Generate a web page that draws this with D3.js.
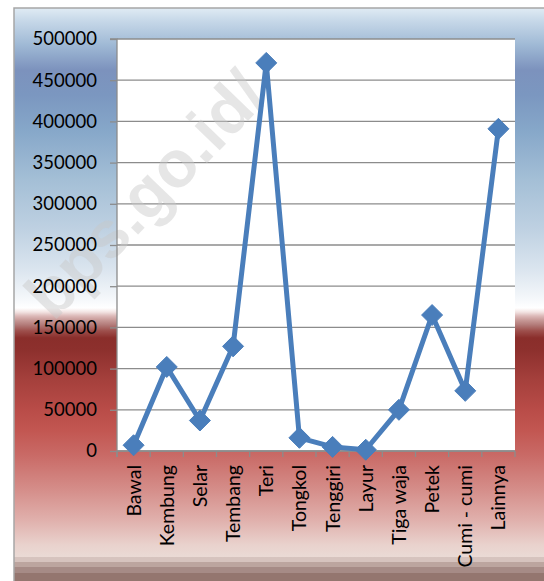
<!DOCTYPE html>
<html>
<head>
<meta charset="utf-8">
<script src="https://cdn.jsdelivr.net/npm/d3@7"></script>
<style>
  html, body { margin: 0; padding: 0; background: #ffffff; }
  svg { display: block; }
  text { font-family: Lato, "Open Sans", sans-serif; fill: #000; }
</style>
</head>
<body>
<svg id="chart" width="544" height="581"></svg>
<script>
const categories = ["Bawal", "Kembung", "Selar", "Tembang", "Teri", "Tongkol", "Tenggiri", "Layur", "Tiga waja", "Petek", "Cumi - cumi", "Lainnya"];
const values = [7000, 102000, 37000, 127000, 471000, 16000, 5000, 1500, 50000, 165000, 73000, 391000];
const yTicks = [0, 50000, 100000, 150000, 200000, 250000, 300000, 350000, 400000, 450000, 500000];
const watermark = "bps.go.id/";

const svg = d3.select("#chart");
const W = 544, H = 581;
const plot = { left: 117, right: 515, top: 39, bottom: 451 };

// background gradient (absolute y, colour)
const bgTop = 8, bgBottom = 581;
const stops = [
  [8, "#e0ebf4"], [20, "#c8d9e9"], [45, "#9fb9d5"], [70, "#7c92bd"], [95, "#7b97c0"],
  [130, "#86a7c9"], [180, "#a4bfd6"], [230, "#bfd1e2"], [270, "#dbe5ef"], [298, "#f4f7fa"],
  [308, "#ffffff"], [312, "#f3e4e3"], [316, "#dcb9b8"], [320, "#c89a98"], [325, "#b27a78"],
  [331, "#9d4e4b"], [338, "#8a2e2b"], [350, "#8d302d"], [380, "#a5403c"], [410, "#b94c48"],
  [430, "#c25651"], [455, "#c96a66"], [490, "#d58e8a"], [520, "#e0b0ac"], [545, "#e9d2cd"],
  [557, "#eadad5"], [557.5, "#d6c3be"], [562, "#d6c3be"], [562.5, "#bca59f"], [567, "#bca59f"],
  [567.5, "#a68b86"], [573, "#a68b86"], [573.5, "#94766f"], [581, "#94766f"]
];
const defs = svg.append("defs");
const grad = defs.append("linearGradient")
  .attr("id", "bg").attr("gradientUnits", "userSpaceOnUse")
  .attr("x1", 0).attr("y1", bgTop).attr("x2", 0).attr("y2", bgBottom);
stops.forEach(([y, c]) => grad.append("stop")
  .attr("offset", ((y - bgTop) / (bgBottom - bgTop)).toFixed(4))
  .attr("stop-color", c));

svg.append("rect")
  .attr("x", 14).attr("y", bgTop).attr("width", W - 14 + 2).attr("height", bgBottom - bgTop + 2)
  .attr("fill", "url(#bg)").attr("stroke", "#a6a6a6").attr("stroke-width", 1.5);

// scales
const x = d3.scaleBand().domain(categories).range([plot.left, plot.right]).padding(0);
const y = d3.scaleLinear().domain([0, 500000]).range([plot.bottom, plot.top]);

// plot area
svg.append("rect")
  .attr("x", plot.left).attr("y", plot.top)
  .attr("width", plot.right - plot.left).attr("height", plot.bottom - plot.top)
  .attr("fill", "#ffffff");

// gridlines
svg.append("g").selectAll("line").data(yTicks).join("line")
  .attr("x1", plot.left).attr("x2", plot.right)
  .attr("y1", d => y(d)).attr("y2", d => y(d))
  .attr("stroke", "#8c8c8c").attr("stroke-width", 1.3);

// watermark
svg.append("text")
  .attr("transform", "translate(270,98) rotate(-46)")
  .attr("text-anchor", "end")
  .style("font-family", "'Liberation Sans', Arial, sans-serif")
  .style("font-weight", "bold")
  .style("font-size", "66px")
  .style("fill", "#c8c8c8")
  .style("fill-opacity", 0.45)
  .text(watermark);

// y axis
const yAxis = d3.axisLeft(y).tickValues(yTicks).tickSize(7).tickPadding(13).tickFormat(d3.format("d"));
const gy = svg.append("g").attr("transform", `translate(${plot.left},0)`).call(yAxis);
gy.select(".domain").attr("stroke", "#8c8c8c").attr("stroke-width", 1.3)
  .attr("d", `M-7,${plot.top}H0V${plot.bottom + 6}`);
gy.selectAll(".tick line").attr("stroke", "#8c8c8c").attr("stroke-width", 1.3);
gy.selectAll(".tick text").style("font-family", "Lato, 'Open Sans', sans-serif")
  .style("font-size", "18.5px").attr("fill", "#000");

// x axis (ticks on category boundaries)
const gx = svg.append("g").attr("transform", `translate(0,${plot.bottom})`);
gx.append("line").attr("x1", plot.left).attr("x2", plot.right).attr("y1", 0).attr("y2", 0)
  .attr("stroke", "#8c8c8c").attr("stroke-width", 1.3);
const bounds = categories.map(c => x(c)).concat([x.range()[1]]);
gx.selectAll("line.tk").data(bounds).join("line").attr("class", "tk")
  .attr("x1", d => d).attr("x2", d => d).attr("y1", 0).attr("y2", 6)
  .attr("stroke", "#8c8c8c").attr("stroke-width", 1.3);
gx.selectAll("text").data(categories).join("text")
  .attr("transform", d => `translate(${x(d) + x.bandwidth() / 2 + 7},${14}) rotate(-90)`)
  .attr("text-anchor", "end")
  .style("font-size", "19.5px")
  .text(d => d);

// line
const pts = categories.map((c, i) => [x(c) + x.bandwidth() / 2, y(values[i])]);
svg.append("path")
  .attr("d", d3.line()(pts))
  .attr("fill", "none").attr("stroke", "#4a7ebb").attr("stroke-width", 5)
  .attr("stroke-linejoin", "round");

// diamond markers
svg.append("g").selectAll("path").data(pts).join("path")
  .attr("transform", d => `translate(${d[0]},${d[1]})`)
  .attr("d", "M0,-10.5L10.5,0L0,10.5L-10.5,0Z")
  .attr("fill", "#4a7ebb").attr("stroke", "#4a7ebb").attr("stroke-width", 1);
</script>
</body>
</html>
